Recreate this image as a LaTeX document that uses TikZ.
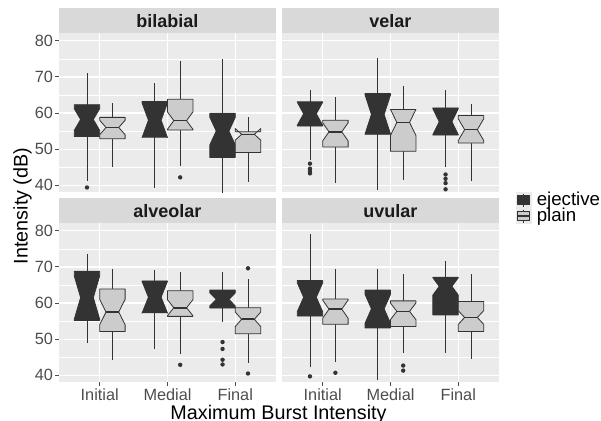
\documentclass[tikz,border=0pt]{standalone}
\usepackage{fontspec}
\setmainfont{Liberation Sans}
\usepackage{tikz}
\usetikzlibrary{calc,arrows,positioning}

\definecolor{panelgray}{HTML}{EBEBEB}
\definecolor{stripgray}{HTML}{D9D9D9}
\definecolor{ejfill}{HTML}{333333}
\definecolor{plfill}{HTML}{CCCCCC}
\definecolor{edgegray}{HTML}{333333}
\definecolor{ticktext}{HTML}{4D4D4D}
\definecolor{striptext}{HTML}{1A1A1A}

\begin{document}
\begin{tikzpicture}[
	x = 0.75pt, y = -0.75pt,
	ejbox/.style = {
	  draw = edgegray,
	  fill = ejfill,
	  line width = 0.6pt,
	  line join = round},
	plbox/.style = {
	  draw = edgegray,
	  fill = plfill,
	  line width = 0.6pt,
	  line join = round},
	whisk/.style = {draw = edgegray, line width = 0.6pt},
	med/.style = {draw = edgegray, line width = 1.2pt},
	outl/.style = {fill = edgegray},
	gridmaj/.style = {white, line width = 1.0pt},
	gridmin/.style = {white, line width = 0.45pt},
	tickmark/.style = {ticktext, line width = 0.6pt},
	ticklab/.style = {text = ticktext, font = \fontsize{12.2}{14}\selectfont, inner sep = 1.5pt},
	striplab/.style = {text = striptext, font = \fontsize{13.5}{16}\selectfont\bfseries, inner sep = 0pt, anchor = base},
	axtitle/.style = {font = \fontsize{14.8}{17}\selectfont, inner sep = 0pt},
	legtext/.style = {font = \fontsize{14}{17}\selectfont, inner sep = 0pt, anchor = base west}
	]
  % Notched box: style, left edge, whisker low, lower hinge, median, upper hinge, whisker high, notch
  \def\nbox#1#2#3#4#5#6#7#8{%
    \draw[whisk] ({#2+0.1875},#3) -- ({#2+0.1875},#4) ({#2+0.1875},#6) -- ({#2+0.1875},#7);
    \draw[#1] (#2,#6) -- (#2,{#5+#8}) -- ({#2+0.09375},#5) -- (#2,{#5-#8}) -- (#2,#4)
      -- ({#2+0.375},#4) -- ({#2+0.375},{#5-#8}) -- ({#2+0.28125},#5) -- ({#2+0.375},{#5+#8})
      -- ({#2+0.375},#6) -- cycle;
    \draw[med] ({#2+0.09375},#5) -- ({#2+0.28125},#5);}
  \def\outlier#1#2{\fill[outl] (#1,#2) circle[radius=1.65pt];}

  % Panel background, grid and strip
  \def\facet#1#2{%
    \fill[panelgray] (0.4,38.04) rectangle (3.6,82.13);
    \foreach \g in {45,55,65,75} \draw[gridmin] (0.4,\g) -- (3.6,\g);
    \foreach \g in {40,50,...,80} \draw[gridmaj] (0.4,\g) -- (3.6,\g);
    \foreach \c in {1,2,3} \draw[gridmaj] (\c,38.04) -- (\c,82.13);
    \fill[stripgray] (0.4,82.13) rectangle (3.6,89.05);
    \node[striplab] (s#1) at (2,83.71) {#2};}
  \def\yticks#1{%
    \foreach \g in {40,50,...,80}
      \draw[tickmark] (0.4,\g) -- ++(-2.75pt,0pt) node[ticklab, anchor=east] (#1y\g) {\g};}
  \def\xticks#1{%
    \foreach \c/\t in {1/Initial,2/Medial,3/Final}
      \draw[tickmark] (\c,38.04) -- ++(0pt,-2.75pt) node[ticklab, anchor=north] (#1x\c) {\t};}

  \useasboundingbox (0,0) rectangle (601,421);

  % bilabial
  \begin{scope}[shift={(31.88,329.9)}, x=50.85pt, y=2.711pt]
    \facet{bilabial}{bilabial}
    \yticks{bilabial}
    \begin{scope}
      \clip (0.4,38.04) rectangle (3.6,82.13);
      \nbox{ejbox}{0.625}{41.3}{53.5}{58.2}{62.3}{71.0}{3.0}
      \nbox{plbox}{1}{45.0}{52.9}{56.0}{58.8}{62.8}{2.0}
      \nbox{ejbox}{1.625}{39.2}{53.3}{58.0}{63.2}{68.2}{4.8}
      \nbox{plbox}{2}{45.4}{55.3}{57.9}{63.8}{74.4}{2.4}
      \nbox{ejbox}{2.625}{37.5}{47.7}{55.0}{59.9}{74.9}{3.8}
      \nbox{plbox}{3}{41.0}{49.1}{54.1}{54.8}{58.8}{1.6}
      \outlier{0.8125}{39.4}
      \outlier{2.1875}{42.2}
    \end{scope}
  \end{scope}

  % velar
  \begin{scope}[shift={(254.88,329.9)}, x=50.85pt, y=2.711pt]
    \facet{velar}{velar}
    \begin{scope}
      \clip (0.4,38.04) rectangle (3.6,82.13);
      \nbox{ejbox}{0.625}{46.9}{56.4}{59.8}{63.1}{66.5}{3.2}
      \nbox{plbox}{1}{40.6}{50.6}{54.8}{58.0}{64.5}{2.5}
      \nbox{ejbox}{1.625}{38.8}{54.1}{59.6}{65.4}{75.1}{5.4}
      \nbox{plbox}{2}{41.6}{49.4}{57.4}{61.0}{67.4}{3.6}
      \nbox{ejbox}{2.625}{45.1}{53.9}{57.6}{61.4}{66.5}{3.6}
      \nbox{plbox}{3}{41.1}{51.7}{55.4}{59.3}{62.6}{3.0}
      \outlier{0.8125}{46.0}
      \outlier{0.8125}{44.6}
      \outlier{0.8125}{43.9}
      \outlier{0.8125}{43.3}
      \outlier{2.8125}{43.0}
      \outlier{2.8125}{41.8}
      \outlier{2.8125}{40.6}
      \outlier{2.8125}{38.9}
    \end{scope}
  \end{scope}

  % alveolar
  \begin{scope}[shift={(31.88,519.9)}, x=50.85pt, y=2.711pt]
    \facet{alveolar}{alveolar}
    \yticks{alveolar}
    \xticks{alveolar}
    \begin{scope}
      \clip (0.4,38.04) rectangle (3.6,82.13);
      \nbox{ejbox}{0.625}{48.9}{55.2}{61.5}{68.8}{73.7}{6.0}
      \nbox{plbox}{1}{44.3}{52.1}{57.5}{63.9}{69.4}{3.5}
      \nbox{ejbox}{1.625}{47.2}{57.3}{61.6}{66.1}{69.0}{4.4}
      \nbox{plbox}{2}{45.8}{56.3}{58.7}{63.4}{68.7}{2.2}
      \nbox{ejbox}{2.625}{54.7}{58.6}{61.0}{63.6}{68.5}{1.8}
      \nbox{plbox}{3}{43.5}{51.5}{55.5}{58.7}{66.7}{2.0}
      \outlier{2.1875}{42.9}
      \outlier{2.8125}{49.2}
      \outlier{2.8125}{47.3}
      \outlier{2.8125}{44.3}
      \outlier{2.8125}{43.0}
      \outlier{3.1875}{69.6}
      \outlier{3.1875}{40.5}
    \end{scope}
  \end{scope}

  % uvular
  \begin{scope}[shift={(254.88,519.9)}, x=50.85pt, y=2.711pt]
    \facet{uvular}{uvular}
    \xticks{uvular}
    \begin{scope}
      \clip (0.4,38.04) rectangle (3.6,82.13);
      \nbox{ejbox}{0.625}{42.3}{56.4}{61.6}{66.2}{79.1}{4.0}
      \nbox{plbox}{1}{43.7}{54.1}{58.3}{61.1}{69.4}{2.5}
      \nbox{ejbox}{1.625}{38.6}{53.1}{58.4}{63.6}{69.4}{4.0}
      \nbox{plbox}{2}{46.1}{53.5}{57.7}{60.6}{68.0}{2.3}
      \nbox{ejbox}{2.625}{46.3}{56.7}{64.6}{67.1}{71.7}{2.4}
      \nbox{plbox}{3}{44.5}{52.1}{56.0}{60.4}{68.0}{1.9}
      \outlier{0.8125}{39.7}
      \outlier{1.1875}{40.7}
      \outlier{2.1875}{42.7}
      \outlier{2.1875}{41.3}
    \end{scope}
  \end{scope}

  % Axis titles
  \node[axtitle, rotate=90] (ytitle) at (22.5,206) {Intensity (dB)};
  \node[axtitle, anchor=base] (xtitle) at (278.5,419.3) {Maximum Burst Intensity};

  % Legend
  \fill[panelgray] (515.5,192) rectangle (531.5,208);
  \draw[whisk] (523.5,193.5) -- (523.5,206.5);
  \draw[ejbox] (517.5,195.5) rectangle (529.5,204.5);
  \draw[med] (517.5,200) -- (529.5,200);
  \node[legtext] (legej) at (536.5,205.8) {ejective};

  \fill[panelgray] (515.5,208) rectangle (531.5,224);
  \draw[whisk] (523.5,209.5) -- (523.5,222.5);
  \draw[plbox] (517.5,211.5) rectangle (529.5,220.5);
  \draw[med] (517.5,216) -- (529.5,216);
  \node[legtext] (legpl) at (536.5,221.9) {plain};

\end{tikzpicture}
\end{document}
